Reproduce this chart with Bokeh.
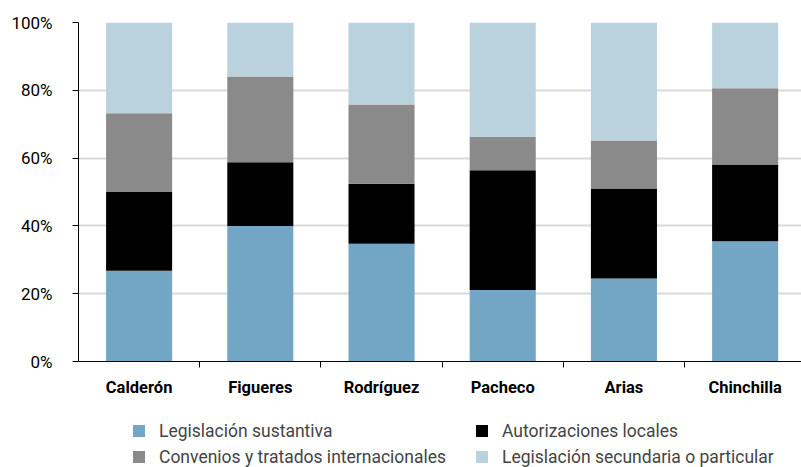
from bokeh.plotting import figure
from bokeh.layouts import column
from bokeh.models import Range1d, FixedTicker, PrintfTickFormatter, Legend, LegendItem, ColumnDataSource
from bokeh.embed import file_html
from bokeh.resources import INLINE

categories = ["Calderón", "Figueres", "Rodríguez", "Pacheco", "Arias", "Chinchilla"]
sustantiva = [26.8, 40.0, 34.7, 21.1, 24.5, 35.5]
autorizaciones = [23.2, 18.8, 17.7, 35.3, 26.5, 22.6]
convenios = [23.2, 25.3, 23.4, 9.8, 14.2, 22.5]
secundaria = [26.8, 15.9, 24.2, 33.8, 34.8, 19.4]
series_names = ["Legislación sustantiva", "Autorizaciones locales",
                "Convenios y tratados internacionales", "Legislación secundaria o particular"]
colors = ["#73a6c4", "#000000", "#8a8a8a", "#bad2de"]
y_ticks = [0, 20, 40, 60, 80, 100]

FONT = "Roboto"

xpos = list(range(len(categories)))
src = ColumnDataSource(dict(x=xpos, s1=sustantiva, s2=autorizaciones, s3=convenios, s4=secundaria))
stack_cols = ["s1", "s2", "s3", "s4"]

p = figure(width=801, height=401, output_backend="svg", toolbar_location=None,
           x_range=Range1d(-0.5, 5.465), y_range=Range1d(0, 100),
           min_border_left=78, min_border_right=0, min_border_top=22, min_border_bottom=40)
p.outline_line_color = None

rs = p.vbar_stack(stack_cols, x="x", width=0.545, source=src,
                  fill_color=colors, line_color=None)

# y axis
p.yaxis.ticker = FixedTicker(ticks=y_ticks)
p.yaxis.formatter = PrintfTickFormatter(format="%d%%")
p.yaxis.axis_line_color = "black"
p.yaxis.major_tick_line_color = "black"
p.yaxis.major_tick_out = 6
p.yaxis.major_tick_in = 0
p.yaxis.minor_tick_line_color = None
p.yaxis.major_label_standoff = 20
p.yaxis.major_label_text_font = FONT
p.yaxis.major_label_text_font_size = "17px"
p.yaxis.major_label_text_color = "black"

# x axis
p.xaxis.ticker = FixedTicker(ticks=xpos, minor_ticks=[i + 0.5 for i in xpos[:-1]])
p.xaxis.major_label_overrides = {i: c for i, c in zip(xpos, categories)}
p.xaxis.axis_line_color = "black"
p.xaxis.major_tick_out = 0
p.xaxis.major_tick_in = 0
p.xaxis.major_tick_line_color = None
p.xaxis.minor_tick_out = 6
p.xaxis.minor_tick_in = 0
p.xaxis.minor_tick_line_color = "black"
p.xaxis.major_label_standoff = 10
p.xaxis.major_label_text_font = FONT
p.xaxis.major_label_text_font_style = "bold"
p.xaxis.major_label_text_font_size = "16.5px"
p.xaxis.major_label_text_color = "black"

p.xgrid.grid_line_color = None
p.ygrid.ticker = FixedTicker(ticks=y_ticks)
p.ygrid.grid_line_color = "#d9d9d9"
p.ygrid.grid_line_width = 2

# legend figure: its bars fall outside its ranges, only the legend shows
lf = figure(width=801, height=66, output_backend="svg", toolbar_location=None,
            x_range=Range1d(-100, -99), y_range=Range1d(1000, 1001),
            x_axis_location=None, y_axis_location=None,
            min_border=0, min_border_left=0, min_border_right=0, min_border_top=0, min_border_bottom=0)
lf.outline_line_color = None
lf.grid.visible = False
lrs = lf.vbar_stack(stack_cols, x="x", width=0.545, source=src, fill_color=colors, line_color=None)

legend = Legend(items=[LegendItem(label=n, renderers=[r]) for n, r in zip(series_names, lrs)],
                location=(53, 0), orientation="horizontal", ncols=2,
                glyph_width=15, glyph_height=15, label_standoff=13, spacing=5,
                label_width=310, label_height=21,
                padding=0, margin=0, border_line_color=None, background_fill_alpha=0,
                label_text_font=FONT, label_text_font_size="17.5px")
lf.add_layout(legend, "center")

layout = column(p, lf, spacing=0)
open("out.html", "w").write(file_html(layout, INLINE))
